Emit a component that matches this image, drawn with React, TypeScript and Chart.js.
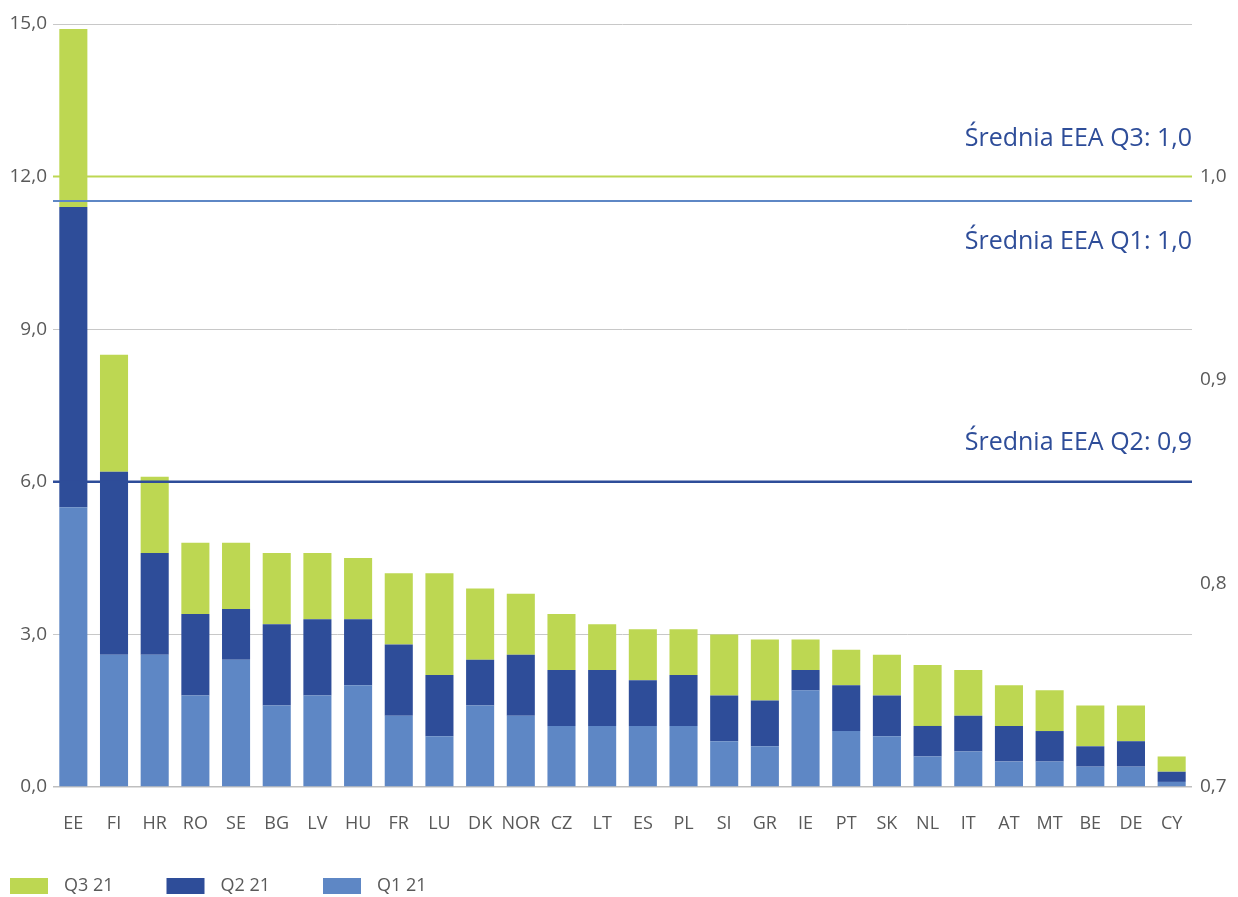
import React, { useEffect, useRef } from "react";
import { Chart, registerables } from "chart.js";

Chart.register(...registerables);

const categories = ["EE","FI","HR","RO","SE","BG","LV","HU","FR","LU","DK","NOR","CZ","LT","ES","PL","SI","GR","IE","PT","SK","NL","IT","AT","MT","BE","DE","CY"];
const q1Values = [5.5,2.6,2.6,1.8,2.5,1.6,1.8,2.0,1.4,1.0,1.6,1.4,1.2,1.2,1.2,1.2,0.9,0.8,1.9,1.1,1.0,0.6,0.7,0.5,0.5,0.4,0.4,0.1];
const q2Values = [5.9,3.6,2.0,1.6,1.0,1.6,1.5,1.3,1.4,1.2,0.9,1.2,1.1,1.1,0.9,1.0,0.9,0.9,0.4,0.9,0.8,0.6,0.7,0.7,0.6,0.4,0.5,0.2];
const q3Values = [3.5,2.3,1.5,1.4,1.3,1.4,1.3,1.2,1.4,2.0,1.4,1.2,1.1,0.9,1.0,0.9,1.2,1.2,0.6,0.7,0.8,1.2,0.9,0.8,0.8,0.8,0.7,0.3];
const seriesLabels = ["Q1 21", "Q2 21", "Q3 21"];
const leftTicks = [0, 3, 6, 9, 12, 15];
const rightTicks = [0.7, 0.8, 0.9, 1.0];
// EEA averages (right axis)
const avgLabels = ["Średnia EEA Q3: 1,0", "Średnia EEA Q1: 1,0", "Średnia EEA Q2: 0,9"];
const avgValues = [1.0, 0.988, 0.85];

const COL_Q1 = "#5E87C5";
const COL_Q2 = "#2E4D99";
const COL_Q3 = "#BDD752";
const TICK = "#595959";
const FONT = "'Open Sans', sans-serif";

const fmt = (v: number) => v.toFixed(1).replace(".", ",");

export default function App() {
  const ref = useRef<HTMLCanvasElement | null>(null);
  useEffect(() => {
    if (!ref.current) return;
    const avgColors = [COL_Q3, COL_Q1, COL_Q2];
    const avgWidths = [2, 2, 2.5];
    const avgOffsets = [-38, 41, -39];
    const overlay = {
      id: "overlay",
      afterDatasetsDraw(chart: any) {
        const { ctx, chartArea, scales } = chart;
        const y1 = scales.y1;
        ctx.save();
        avgValues.forEach((v, i) => {
          const y = y1.getPixelForValue(v);
          ctx.beginPath();
          ctx.strokeStyle = avgColors[i];
          ctx.lineWidth = avgWidths[i];
          ctx.moveTo(chartArea.left, y);
          ctx.lineTo(chartArea.right, y);
          ctx.stroke();
          ctx.fillStyle = COL_Q2;
          ctx.font = `25px ${FONT}`;
          ctx.textAlign = "right";
          ctx.textBaseline = "middle";
          ctx.fillText(avgLabels[i], chartArea.right, y + avgOffsets[i]);
        });
        // legend
        const items = [
          { label: seriesLabels[2], color: COL_Q3 },
          { label: seriesLabels[1], color: COL_Q2 },
          { label: seriesLabels[0], color: COL_Q1 },
        ];
        const ly = 886;
        items.forEach((it, i) => {
          const x = 10 + i * 156.5;
          ctx.fillStyle = it.color;
          ctx.fillRect(x, ly - 8, 38, 16);
          ctx.fillStyle = TICK;
          ctx.font = `18px ${FONT}`;
          ctx.textAlign = "left";
          ctx.textBaseline = "middle";
          ctx.fillText(it.label, x + 54, ly);
        });
        ctx.restore();
      },
    };
    const chart = new Chart(ref.current, {
      type: "bar",
      data: {
        labels: categories,
        datasets: [
          { label: seriesLabels[0], data: q1Values, backgroundColor: COL_Q1, stack: "s", yAxisID: "y" },
          { label: seriesLabels[1], data: q2Values, backgroundColor: COL_Q2, stack: "s", yAxisID: "y" },
          { label: seriesLabels[2], data: q3Values, backgroundColor: COL_Q3, stack: "s", yAxisID: "y" },
        ],
      },
      options: {
        animation: false,
        responsive: false,
        maintainAspectRatio: false,
        layout: { padding: { top: 24, left: 0, right: 0, bottom: 0 } },
        datasets: { bar: { barPercentage: 1, categoryPercentage: 0.69 } },
        plugins: { legend: { display: false }, tooltip: { enabled: false } },
        scales: {
          x: {
            stacked: true,
            grid: { display: false, drawTicks: false },
            border: { display: false },
            ticks: { color: TICK, font: { family: FONT, size: 18 }, padding: 26, maxRotation: 0, autoSkip: false },
            afterFit: (s: any) => { s.height = 110; },
          },
          y: {
            stacked: true,
            position: "left",
            min: 0,
            max: 15,
            afterBuildTicks: (s: any) => { s.ticks = leftTicks.map((v) => ({ value: v })); },
            ticks: { color: TICK, font: { family: FONT, size: 19 }, padding: 6, callback: (v: any) => fmt(Number(v)) },
            grid: { color: (c: any) => (c.tick && c.tick.value === 0 ? "#BFBFBF" : "#C8C8C8"), lineWidth: (c: any) => (c.tick && c.tick.value === 0 ? 1.5 : 1), drawTicks: false },
            border: { display: false },
            afterFit: (s: any) => { s.width = 53; },
          },
          y1: {
            position: "right",
            min: 0.7,
            max: 1.075,
            afterBuildTicks: (s: any) => { s.ticks = rightTicks.map((v) => ({ value: v })); },
            ticks: { color: TICK, font: { family: FONT, size: 19 }, padding: 8, callback: (v: any) => fmt(Number(v)) },
            grid: { display: false, drawTicks: false },
            border: { display: false },
            afterFit: (s: any) => { s.width = 46; },
          },
        },
      },
      plugins: [overlay],
    } as any);
    return () => chart.destroy();
  }, []);
  return (
    <div style={{ position: "absolute", left: 0, top: 0, width: 1238, height: 897, background: "#fff" }}>
      <canvas ref={ref} width={1238} height={897} style={{ width: 1238, height: 897 }} />
    </div>
  );
}
